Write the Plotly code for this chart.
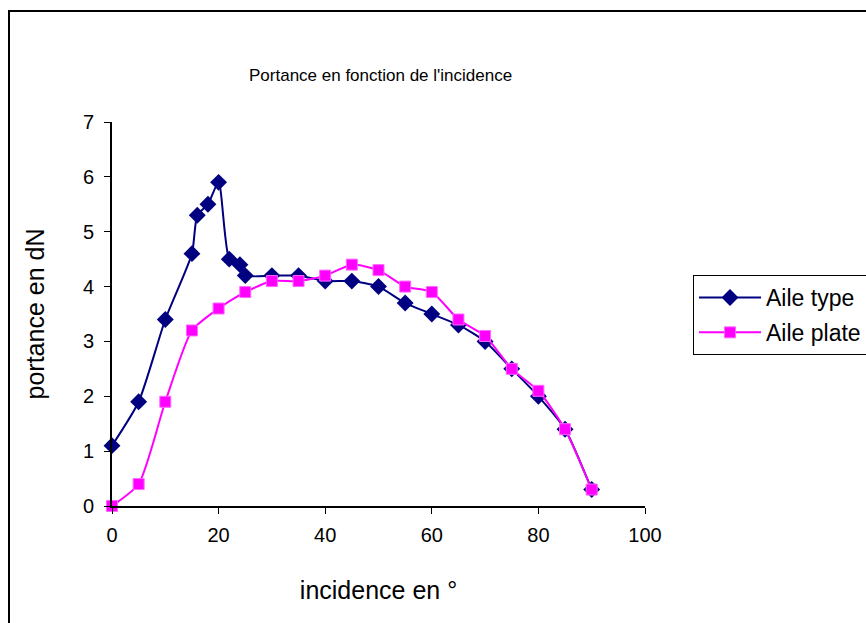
import plotly.graph_objects as go

incidence_type = [0, 5, 10, 15, 16, 18, 20, 22, 24, 25, 30, 35, 40, 45, 50, 55, 60, 65, 70, 75, 80, 85, 90]
portance_type = [1.1, 1.9, 3.4, 4.6, 5.3, 5.5, 5.9, 4.5, 4.4, 4.2, 4.2, 4.2, 4.1, 4.1, 4.0, 3.7, 3.5, 3.3, 3.0, 2.5, 2.0, 1.4, 0.3]

incidence_plate = [0, 5, 10, 15, 20, 25, 30, 35, 40, 45, 50, 55, 60, 65, 70, 75, 80, 85, 90]
portance_plate = [0.0, 0.4, 1.9, 3.2, 3.6, 3.9, 4.1, 4.1, 4.2, 4.4, 4.3, 4.0, 3.9, 3.4, 3.1, 2.5, 2.1, 1.4, 0.3]

x_ticks = [0, 20, 40, 60, 80, 100]
y_ticks = [0, 1, 2, 3, 4, 5, 6, 7]

FONT = "Liberation Sans, Arial, sans-serif"

fig = go.Figure()
fig.add_trace(go.Scatter(
    x=incidence_type, y=portance_type, name="Aile type", mode="lines+markers",
    line=dict(color="#000080", width=2, shape="spline", smoothing=0.6),
    marker=dict(symbol="diamond", size=13, color="#000080"),
    legendgroup="a", cliponaxis=False))
fig.add_trace(go.Scatter(
    x=incidence_plate, y=portance_plate, name="Aile plate", mode="lines+markers",
    line=dict(color="#FF00FF", width=2, shape="spline", smoothing=0.6),
    marker=dict(symbol="square", size=11, color="#FF00FF", line=dict(color="#FF66FF", width=1)),
    legendgroup="b", cliponaxis=False))

L, R, T, B = 112, 645, 122, 506
W, H = 866, 623
pw, ph = R - L, B - T

fig.update_layout(
    width=W, height=H,
    margin=dict(l=L, r=W - R, t=T, b=H - B, autoexpand=False),
    paper_bgcolor="white", plot_bgcolor="white",
    font=dict(family=FONT, size=20, color="black"),
    showlegend=True,
    legend=dict(x=(693 - L) / pw, y=(B - 275) / ph, xanchor="left", yanchor="top",
                bordercolor="black", borderwidth=1, bgcolor="white",
                font=dict(size=23), tracegroupgap=2, itemwidth=62),
    xaxis=dict(range=[0, 100], tickvals=x_ticks, showgrid=False, zeroline=False,
               showline=True, linecolor="black", linewidth=2, ticks="outside",
               ticklen=6, tickwidth=1, tickcolor="black", ticklabelstandoff=4,
               title=dict(text="incidence en °", standoff=36, font=dict(size=25))),
    yaxis=dict(range=[0, 7], tickvals=y_ticks, showgrid=False, zeroline=False,
               showline=True, linecolor="black", linewidth=2, ticks="outside",
               ticklen=6, tickwidth=1, tickcolor="black", ticklabelstandoff=6,
               title=dict(text="portance en dN", standoff=31, font=dict(size=25))),
    annotations=[dict(text="Portance en fonction de l'incidence", xref="paper", yref="paper",
                      x=(380 - L) / pw, y=(B - 75) / ph, xanchor="center", yanchor="middle",
                      showarrow=False, font=dict(size=17))],
    shapes=[dict(type="rect", xref="paper", yref="paper",
                 x0=(9 - L) / pw, x1=(900 - L) / pw, y0=(B - 660) / ph, y1=(B - 11) / ph,
                 line=dict(color="black", width=2), fillcolor="rgba(0,0,0,0)", layer="below")],
)

fig.write_html("out.html")
